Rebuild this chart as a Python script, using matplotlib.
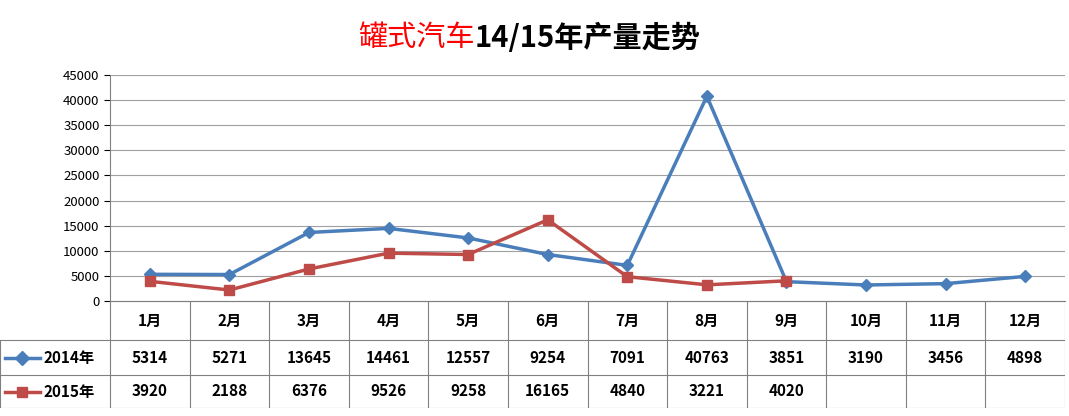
import matplotlib.pyplot as plt

plt.rcParams['font.family'] = ['Noto Sans CJK SC', 'DejaVu Sans']

months = ['1月', '2月', '3月', '4月', '5月', '6月', '7月', '8月', '9月', '10月', '11月', '12月']
s2014 = [5314, 5271, 13645, 14461, 12557, 9254, 7091, 40763, 3851, 3190, 3456, 4898]
s2015 = [3920, 2188, 6376, 9526, 9258, 16165, 4840, 3221, 4020]
names = ['2014年', '2015年']
blue = '#4a7ebb'
red = '#be4b48'

W, H = 1069, 416
fig = plt.figure(figsize=(W / 100, H / 100), dpi=100)

# chart area in pixel coordinates
x0, x1, ytop, ybot, tbot = 110, 1065, 75, 301, 408
ax = fig.add_axes([x0 / W, 1 - ybot / H, (x1 - x0) / W, (ybot - ytop) / H])
x = range(len(months))
ax.plot(x, s2014, color=blue, lw=2.5, marker='D', ms=6)
ax.plot(range(len(s2015)), s2015, color=red, lw=2.5, marker='s', ms=7)
ax.set_xlim(-0.5, 11.5)
ax.set_ylim(0, 45000)
ax.set_yticks(range(0, 45001, 5000))
ax.tick_params(axis='y', labelsize=9.5, length=4)
ax.set_xticks([])
ax.grid(axis='y', color='#a0a0a0', lw=0.8)
for s in ['top', 'right']:
    ax.spines[s].set_visible(False)
ax.spines['left'].set_color('#808080')
ax.spines['bottom'].set_color('#808080')

# data table below
tax = fig.add_axes([0, 1 - tbot / H, x1 / W, (tbot - ybot) / H])
tax.set_xlim(0, x1)
tax.set_ylim(tbot, ybot)
tax.axis('off')
rows = [ybot, 340, 375, tbot]
cw = (x1 - x0) / 12
for r in rows:
    tax.plot([0 if r != ybot else x0, x1], [r, r], color='#808080', lw=0.8)
for i in range(13):
    tax.plot([x0 + i * cw] * 2, [ybot, tbot], color='#808080', lw=0.8)
tax.plot([0, 0], [rows[1], tbot], color='#808080', lw=0.8)
for i, m in enumerate(months):
    cx = x0 + (i + 0.5) * cw
    tax.text(cx, (rows[0] + rows[1]) / 2, m, ha='center', va='center', fontsize=11, fontweight='bold')
    tax.text(cx, (rows[1] + rows[2]) / 2, str(s2014[i]), ha='center', va='center', fontsize=11, fontweight='bold')
    if i < len(s2015):
        tax.text(cx, (rows[2] + rows[3]) / 2, str(s2015[i]), ha='center', va='center', fontsize=11, fontweight='bold')
for j, (nm, c, mk) in enumerate([(names[0], blue, 'D'), (names[1], red, 's')]):
    cy = (rows[j + 1] + rows[j + 2]) / 2
    tax.plot([5, 40], [cy, cy], color=c, lw=2.5)
    tax.plot([22], [cy], marker=mk, color=c, ms=7)
    tax.text(44, cy, nm, ha='left', va='center', fontsize=11, fontweight='bold')

# title
split = 475 / W
fig.text(split, 1 - 38 / H, '罐式汽车', color='red', fontsize=21, ha='right', va='center')
fig.text(split, 1 - 38 / H, '14/15年产量走势', color='black', fontsize=21, fontweight='bold', ha='left', va='center')

fig.savefig('out.png', dpi=100)
